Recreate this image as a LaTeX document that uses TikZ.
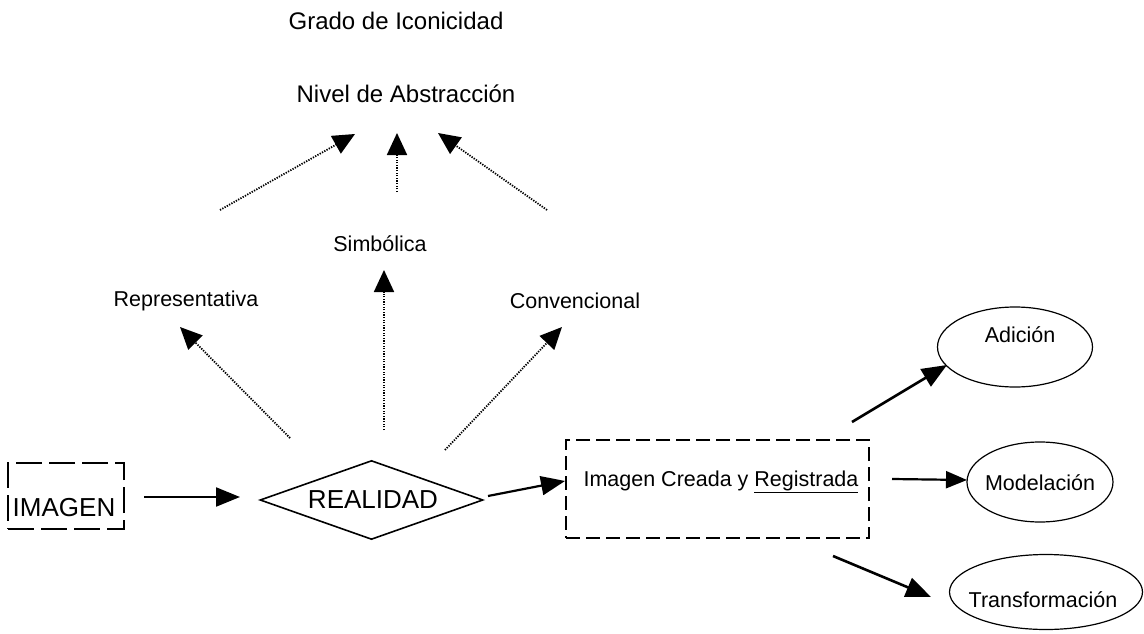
\documentclass[tikz,border=0pt]{standalone}
\usepackage{fontspec}
\setmainfont{Liberation Sans}
\usetikzlibrary{shapes.geometric,arrows.meta}
\begin{document}
\begin{tikzpicture}[x=1pt,y=-1pt,
  txt/.style={inner sep=0pt,font=\fontsize{21.5}{24}\selectfont},
  bigtxt/.style={inner sep=0pt,font=\fontsize{24}{28}\selectfont},
  hugetxt/.style={inner sep=0pt,font=\fontsize{26}{30}\selectfont},
  oval/.style={draw,ellipse,line width=1.2pt,inner sep=0pt},
  dotarr/.style={line width=1.8pt,dash pattern=on 1.3pt off 1.3pt,
    -{Triangle[length=22pt,width=20pt]}},
  solarr/.style={line width=2.6pt,-{Triangle[length=25pt,width=20pt]}},
  medarr/.style={line width=2.2pt,-{Triangle[length=24pt,width=19pt]}},
]
\useasboundingbox[fill=white] (0,0) rectangle (1144,634);

% texts at top
\node[bigtxt] (grado) at (396,21) {Grado de Iconicidad};
\node[bigtxt] (nivel) at (406,94) {Nivel de Abstracción};
\node[txt] (simb) at (380,244) {Simbólica};
\node[txt] (repr) at (186,301) {Representativa};
\node[txt] (conv) at (575,301) {Convencional};

% IMAGEN box
\node[draw,line width=1.2pt,dash pattern=on 26pt off 7pt,minimum width=116pt,minimum height=66pt,inner sep=0pt] (imgbox) at (66,496) {};
\node[hugetxt] (imagen) at (64,508) {IMAGEN};

% REALIDAD diamond
\node[draw,diamond,line width=1.6pt,minimum width=223pt,minimum height=79pt,aspect=2.82,inner sep=0pt] (realidad) at (371.5,500) {};
\node[hugetxt] (realtxt) at (373,500) {REALIDAD};

% Imagen Creada box
\node[draw,line width=1.1pt,dash pattern=on 14pt off 6pt,minimum width=303pt,minimum height=98pt,inner sep=0pt] (creada) at (717.5,489) {};
\node[txt] (creadatxt) at (721,482) {Imagen Creada y \underline{Registrada}};

% ellipses
\node[oval,minimum width=155pt,minimum height=80pt] (adicion) at (1015,347) {};
\node[txt] (adtxt) at (1020,335) {Adición};
\node[oval,minimum width=146pt,minimum height=80pt] (modelacion) at (1040,482) {};
\node[txt] (modtxt) at (1040,483) {Modelación};
\node[oval,minimum width=193pt,minimum height=75pt] (transf) at (1046,592) {};
\node[txt] (trtxt) at (1043,600) {Transformación};

% free starts of the upper dotted arrows
\coordinate (s1) at (220,210);
\coordinate (s2) at (397,192);
\coordinate (s3) at (547,210);

\draw[dotarr] (s1) -- ([shift={(-51,40)}]nivel.center);
\draw[dotarr] (s2) -- ([shift={(-9,39)}]nivel.center);
\draw[dotarr] (s3) -- ([shift={(32,39)}]nivel.center);

\draw[dotarr] ([shift={(-81.5,-62)}]realidad.center) -- ([shift={(-6,26)}]repr.center);
\draw[dotarr] ([shift={(12.5,-70)}]realidad.center) -- ([shift={(4,26)}]simb.center);
\draw[dotarr] ([shift={(73.5,-50)}]realidad.center) -- ([shift={(-13,26)}]conv.center);

\draw[medarr] ([shift={(78,1)}]imgbox.center) -- ([shift={(-131.5,-3)}]realidad.center);
\draw[medarr] ([shift={(116.5,-4)}]realidad.center) -- ([shift={(-152.5,-8)}]creada.center);

\draw[solarr] ([shift={(134.5,-67)}]creada.center) -- ([shift={(-68,18)}]adicion.center);
\draw[medarr,-{Triangle[length=21pt,width=17pt]}] ([shift={(174.5,-10)}]creada.center) -- ([shift={(-73,-2)}]modelacion.center);
\draw[solarr] ([shift={(115.5,67)}]creada.center) -- ([shift={(-115,5)}]transf.center);
\end{tikzpicture}
\end{document}
